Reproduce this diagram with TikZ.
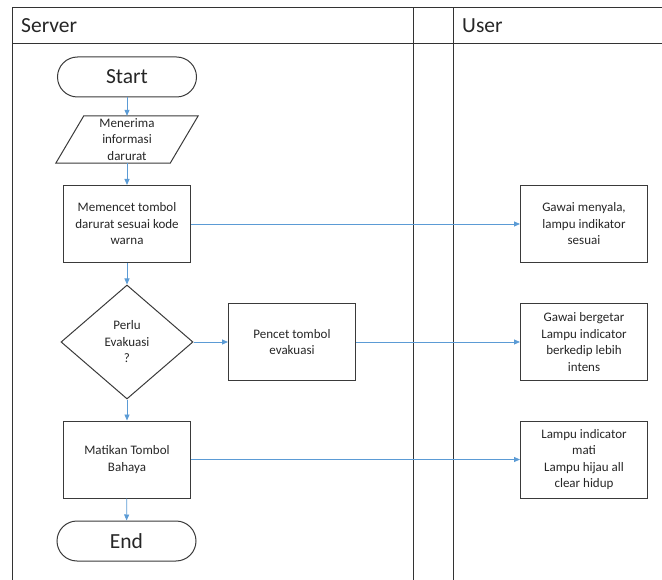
\documentclass[tikz,border=0pt]{standalone}
\usepackage{fontspec}
\setmainfont{Carlito}
\usetikzlibrary{shapes.geometric,arrows.meta}
\definecolor{arrowblue}{HTML}{5B9BD5}
\definecolor{edgegray}{HTML}{3A3A3A}
\definecolor{txtgray}{HTML}{262626}
\begin{document}
\begin{tikzpicture}[x=1pt,y=-1pt,
  lane/.style={draw=black!80,line width=0.9pt},
  box/.style={draw=edgegray,line width=1pt,minimum width=127pt,minimum height=77pt,
    align=center,inner sep=1pt,text=txtgray,font=\fontsize{13}{16.5}\selectfont},
  term/.style={draw=edgegray,line width=1pt,rounded corners=20pt,minimum width=139pt,
    minimum height=40pt,inner sep=0pt,text=txtgray,font=\fontsize{21.5}{24}\selectfont},
  plain/.style={minimum width=114pt,minimum height=47pt,inner sep=0pt,align=center,
    text=txtgray,font=\fontsize{13}{16.5}\selectfont},
  decision/.style={diamond,draw=edgegray,line width=1pt,minimum width=132pt,minimum height=114pt,
    inner sep=0pt,align=center,text=txtgray,font=\fontsize{13}{16.5}\selectfont},
  header/.style={anchor=west,inner sep=0pt,text=txtgray,font=\fontsize{21.5}{24}\selectfont},
  flow/.style={draw=arrowblue,line width=0.8pt,-{Triangle[length=6pt,width=5pt]}}]
\useasboundingbox (0,0) rectangle (662,580);
% swimlane frame
\draw[lane] (12,580) -- (12,7.5) -- (662,7.5);
\draw[lane] (12,43) -- (662,43);
\draw[lane] (413,7.5) -- (413,580);
\draw[lane] (453,7.5) -- (453,580);
\node[header] (hserver) at (21,26) {Server};
\node[header] (huser) at (462,26) {User};
% server lane
\node[term] (start) at (127,77) {Start};
\node[plain] (para) at (127,139.5) {Menerima\\informasi\\darurat};
\draw[draw=edgegray,line width=1pt]
  ([xshift=14pt]para.north west) -- ([xshift=14pt]para.north east) --
  ([xshift=-14pt]para.south east) -- ([xshift=-14pt]para.south west) -- cycle;
\node[box] (press) at (127,224) {Memencet tombol\\darurat sesuai kode\\warna};
\node[decision] (dec) at (127,342) {Perlu\\Evakuasi\\?};
\node[box] (evac) at (292,342) {Pencet tombol\\evakuasi};
\node[box] (off) at (127,459.5) {Matikan Tombol\\Bahaya};
\node[term] (end) at (126.5,541) {End};
% user lane
\node[box] (u1) at (584,224) {Gawai menyala,\\lampu indikator\\sesuai};
\node[box] (u2) at (584,342) {Gawai bergetar\\Lampu indicator\\berkedip lebih\\intens};
\node[box] (u3) at (584,459.5) {Lampu indicator\\mati\\Lampu hijau all\\clear hidup};
% connectors
\draw[flow] (start) -- (para);
\draw[flow] (para) -- (press);
\draw[flow] (press) -- (dec);
\draw[flow] (dec) -- (off);
\draw[flow] (off) -- (end);
\draw[flow] (dec) -- (evac);
\draw[flow] (press) -- (u1);
\draw[flow] (evac) -- (u2);
\draw[flow] (off) -- (u3);
\end{tikzpicture}
\end{document}
